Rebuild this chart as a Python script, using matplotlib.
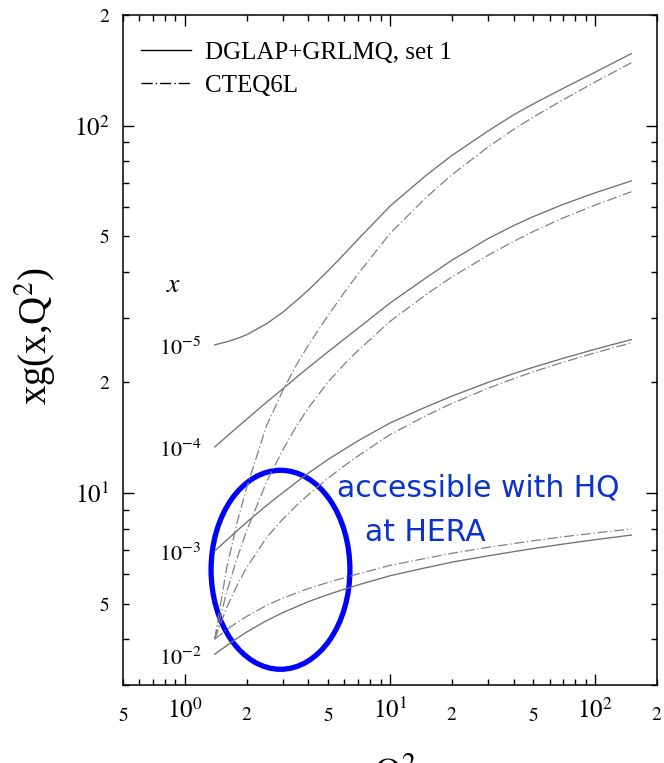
import numpy as np
import matplotlib
matplotlib.use("Agg")
import matplotlib.pyplot as plt
from matplotlib.patches import Ellipse
from matplotlib.lines import Line2D
from matplotlib.ticker import FuncFormatter, LogLocator

plt.rcParams["font.family"] = ["Liberation Serif", "DejaVu Serif"]
plt.rcParams["mathtext.fontset"] = "stix"

# Q^2 grid (GeV^2)
q2 = [1.4, 1.6, 1.8, 2, 2.5, 3, 3.5, 4, 5, 6, 7, 10, 15, 20, 30, 40, 50, 70, 100, 150]

# xg(x, Q^2) for DGLAP+GRLMQ, set 1
grlmq_x1e5 = [25.31, 25.78, 26.33, 26.94, 28.87, 31.03, 33.38, 35.65, 40.27, 44.77,
              49.06, 60.36, 73.22, 82.90, 96.6, 106.99, 114.6, 126.4, 139.8, 157.0]
grlmq_x1e4 = [13.34, 14.24, 15.08, 15.86, 17.65, 19.19, 20.64, 21.94, 24.25, 26.26,
              28.09, 32.88, 38.53, 42.98, 49.22, 53.41, 56.55, 61.07, 65.64, 70.69]
grlmq_x1e3 = [6.95, 7.44, 7.89, 8.32, 9.24, 10.01, 10.70, 11.32, 12.34, 13.15,
              13.87, 15.50, 17.15, 18.34, 19.99, 21.12, 21.99, 23.27, 24.62, 26.15]
grlmq_x1e2 = [3.64, 3.84, 4.02, 4.18, 4.49, 4.72, 4.90, 5.06, 5.29, 5.47,
              5.62, 5.95, 6.26, 6.48, 6.74, 6.92, 7.06, 7.26, 7.46, 7.68]

# xg(x, Q^2) for CTEQ6L
cteq_x1e5 = [4.00, 6.24, 8.32, 10.31, 15.21, 18.97, 22.31, 25.23, 30.46, 35.18,
             39.50, 50.86, 63.73, 73.44, 87.38, 97.63, 105.5, 117.7, 131.5, 148.3]
cteq_x1e4 = [4.00, 5.37, 6.65, 7.87, 10.70, 13.08, 15.20, 17.03, 20.06, 22.44,
             24.43, 29.31, 34.68, 38.70, 44.33, 48.38, 51.52, 56.09, 60.77, 66.05]
cteq_x1e3 = [4.00, 4.87, 5.61, 6.26, 7.55, 8.48, 9.24, 9.89, 10.98, 11.86,
             12.62, 14.41, 16.24, 17.52, 19.26, 20.46, 21.38, 22.70, 24.07, 25.63]
cteq_x1e2 = [4.00, 4.25, 4.44, 4.61, 4.94, 5.17, 5.34, 5.49, 5.71, 5.88,
             6.02, 6.35, 6.64, 6.85, 7.11, 7.28, 7.41, 7.60, 7.78, 7.98]

x_labels = [r"$10^{-5}$", r"$10^{-4}$", r"$10^{-3}$", r"$10^{-2}$"]
legend_labels = ["DGLAP+GRLMQ, set 1", "CTEQ6L"]

grlmq = [grlmq_x1e5, grlmq_x1e4, grlmq_x1e3, grlmq_x1e2]
cteq = [cteq_x1e5, cteq_x1e4, cteq_x1e3, cteq_x1e2]

DASHDOT = (8, 2.2, 1, 2.2)

fig = plt.figure(figsize=(6.64, 7.63), dpi=100)
ax = fig.add_axes([0.1852, 0.1022, 0.8042, 0.8781])
ax.set_xscale("log")
ax.set_yscale("log")
ax.set_xlim(0.5, 200)
ax.set_ylim(3, 200)

for g, c, lab in zip(grlmq, cteq, x_labels):
    ax.plot(q2, g, color="#707070", lw=0.95, solid_joinstyle="round")
    ax.plot(q2, c, color="#808080", lw=0.9, dashes=DASHDOT)
    ax.annotate(lab, xy=(q2[0], g[0]), xytext=(-25, -3), textcoords="offset points",
                ha="center", va="center", fontsize=16)

ax.annotate(r"$x$", xy=(q2[0], grlmq_x1e5[0]), xytext=(-29.5, 42.5),
            textcoords="offset points", ha="center", va="center", fontsize=20)


def major_fmt(v, pos):
    return r"$10^{%d}$" % int(round(np.log10(v)))


def minor_fmt(v, pos):
    m = int(round(v / 10 ** np.floor(np.log10(v) + 1e-9)))
    return r"$%d$" % m if m in (2, 5) else ""


for axis in (ax.xaxis, ax.yaxis):
    axis.set_major_locator(LogLocator(base=10, numticks=10))
    axis.set_minor_locator(LogLocator(base=10, subs=np.arange(2, 10), numticks=10))
    axis.set_major_formatter(FuncFormatter(major_fmt))
    axis.set_minor_formatter(FuncFormatter(minor_fmt))

ax.tick_params(which="both", direction="in", top=True, right=True, width=1.0)
ax.tick_params(which="major", length=8, labelsize=18)
ax.tick_params(which="minor", length=4.5, labelsize=14)
ax.tick_params(axis="x", which="major", pad=9)
ax.tick_params(axis="x", which="minor", pad=16)
ax.tick_params(axis="y", which="both", pad=9.5)
for s in ax.spines.values():
    s.set_linewidth(1.1)

handles = [Line2D([], [], color="black", lw=1.0),
           Line2D([], [], color="black", lw=1.0, dashes=DASHDOT)]
ax.legend(handles, legend_labels, loc="upper left", bbox_to_anchor=(0.034, 0.961),
          frameon=False, fontsize=18, handlelength=2.0, handletextpad=0.55,
          labelspacing=0.42, borderpad=0, borderaxespad=0)

fig.text(0.053, 0.560, r"xg(x,Q$^2$)", rotation=90, fontsize=28, ha="center", va="center")
fig.text(0.595, -0.030, r"$\mathrm{Q}^{2}$", fontsize=28, ha="center", va="baseline")

# highlighted region
ax.add_patch(Ellipse((0.295, 0.172), 0.260, 0.297, transform=ax.transAxes,
                     fill=False, ec="#0000ff", lw=3.8, clip_on=False))
ax.text(0.401, 0.294, "accessible with HQ", transform=ax.transAxes, fontsize=21.5,
        color="#0a32cc", family="DejaVu Sans", ha="left", va="center")
ax.text(0.453, 0.228, "at HERA", transform=ax.transAxes, fontsize=21.5,
        color="#0a32cc", family="DejaVu Sans", ha="left", va="center")

fig.savefig("out.png", dpi=100)
